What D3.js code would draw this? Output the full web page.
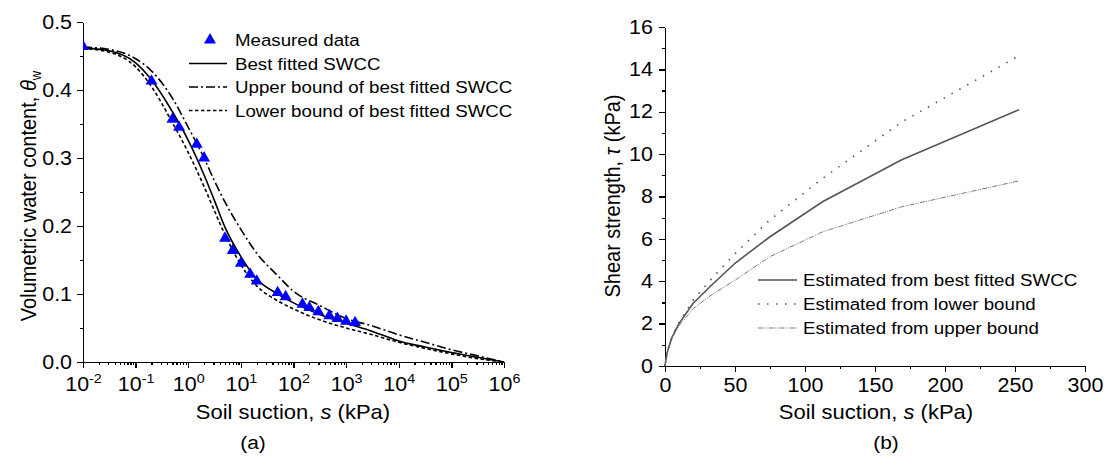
<!DOCTYPE html>
<html lang="en">
<head>
<meta charset="utf-8">
<title>SWCC and shear strength</title>
<script src="https://cdn.jsdelivr.net/npm/d3@7"></script>
<style>
  body { margin: 0; background: #fff; }
  text { font-family: Arial, "Liberation Sans", sans-serif; fill: #000; }
  .axis path, .axis line { stroke: #000; stroke-width: 1.3px; shape-rendering: crispEdges; }
</style>
</head>
<body>
<div id="chart"></div>
<script>
// ---- (a) measured points
const measSuction = [0.01, 0.2, 0.5, 0.67, 1.45, 2, 5, 7, 10, 15, 20, 50, 71, 148, 200, 297, 480, 684, 1000, 1480];
const measTheta = [0.464, 0.413, 0.357, 0.345, 0.320, 0.300, 0.182, 0.164, 0.145, 0.129, 0.119, 0.102, 0.096, 0.085, 0.080, 0.074, 0.068, 0.064, 0.060, 0.058];

// ---- (a) fitted SWCC curves
const curveSuction = [0.01, 0.03, 0.1, 0.2, 0.5, 1, 2, 3.16, 5, 10, 20, 50, 100, 316, 1000, 3162, 1e4, 31623, 1e5, 316228, 1e6];
const bestTheta  = [0.462, 0.458, 0.440, 0.415, 0.368, 0.326, 0.275, 0.237, 0.198, 0.155, 0.122, 0.100, 0.087, 0.070, 0.057, 0.045, 0.031, 0.022, 0.014, 0.007, 0.0];
const upperTheta = [0.463, 0.460, 0.446, 0.428, 0.388, 0.345, 0.300, 0.266, 0.235, 0.195, 0.160, 0.127, 0.104, 0.083, 0.064, 0.053, 0.040, 0.029, 0.018, 0.009, 0.0];
const lowerTheta = [0.461, 0.456, 0.434, 0.405, 0.352, 0.308, 0.258, 0.222, 0.187, 0.143, 0.112, 0.090, 0.078, 0.062, 0.050, 0.040, 0.029, 0.020, 0.012, 0.005, 0.0];

// ---- (b) shear strength
const tauSuction = [0, 1, 2, 5, 10, 20, 33, 50, 75, 112.5, 168.75, 253];
const tauBest  = [0, 0.45, 0.75, 1.35, 2.0, 2.95, 3.8, 4.85, 6.1, 7.75, 9.72, 12.1];
const tauLower = [0, 0.45, 0.75, 1.4, 2.05, 3.1, 4.1, 5.3, 6.9, 8.85, 11.5, 14.65];
const tauUpper = [0, 0.45, 0.75, 1.35, 1.9, 2.7, 3.35, 4.05, 5.16, 6.33, 7.51, 8.74];

// ---- ticks
const thetaTicks = [0, 0.1, 0.2, 0.3, 0.4, 0.5];
const decadeExps = [-2, -1, 0, 1, 2, 3, 4, 5, 6];
const tauTicks = [0, 2, 4, 6, 8, 10, 12, 14, 16];
const suctionTicksB = [0, 50, 100, 150, 200, 250, 300];

const width = 1107, height = 466;
const SX = 1.1; // the original text is a bit wider than plain Arial

const svg = d3.select('#chart').append('svg')
  .attr('width', width)
  .attr('height', height)
  .style('background', '#fff');

// helper for stretched text
function label(x, y, anchor, size, rotate) {
  return svg.append('text')
    .attr('transform', `translate(${x},${y}) scale(${SX},1)` + (rotate ? ' rotate(-90)' : ''))
    .attr('text-anchor', anchor)
    .style('font-size', size + 'px');
}

function styleTicks(g, size) {
  g.selectAll('.tick text')
    .style('font-size', size + 'px')
    .style('font-family', 'Arial, "Liberation Sans", sans-serif')
    .attr('transform', `scale(${SX},1)`);
}

// ================= (a) =================
const xA = d3.scaleLog().domain([1e-2, 1e6]).range([83, 504]);
const yA = d3.scaleLinear().domain([0, 0.5]).range([362, 22]);

const minorLog = [];
for (let k = -2; k < 6; k++) {
  for (let m = 2; m <= 9; m++) minorLog.push(m * Math.pow(10, k));
}

// minor ticks
svg.append('g').attr('class', 'axis')
  .attr('transform', `translate(0,${yA(0)})`)
  .call(d3.axisBottom(xA).tickValues(minorLog).tickSize(3).tickFormat(''))
  .call(g => g.select('.domain').remove());
svg.append('g').attr('class', 'axis')
  .attr('transform', `translate(${xA(1e-2)},0)`)
  .call(d3.axisLeft(yA).tickValues([0.05, 0.15, 0.25, 0.35, 0.45]).tickSize(3).tickFormat(''))
  .call(g => g.select('.domain').remove());

const gxA = svg.append('g').attr('class', 'axis')
  .attr('transform', `translate(0,${yA(0)})`)
  .call(d3.axisBottom(xA).tickValues(decadeExps.map(e => Math.pow(10, e))).tickSize(6).tickSizeOuter(0).tickPadding(9));
styleTicks(gxA, 19.5);
gxA.selectAll('.tick text').text(null).each(function(d) {
  const t = d3.select(this);
  t.append('tspan').text('10');
  t.append('tspan').attr('dy', '-0.6em').style('font-size', '13px').text(Math.round(Math.log10(d)));
});

const gyA = svg.append('g').attr('class', 'axis')
  .attr('transform', `translate(${xA(1e-2)},0)`)
  .call(d3.axisLeft(yA).tickValues(thetaTicks).tickSize(6).tickSizeOuter(0).tickPadding(4).tickFormat(d3.format('.1f')));
styleTicks(gyA, 19.5);

svg.append('clipPath').attr('id', 'clipA')
  .append('rect').attr('x', xA(1e-2)).attr('y', yA(0.5)).attr('width', xA(1e6) - xA(1e-2)).attr('height', yA(0) - yA(0.5));

const lineA = theta => d3.line()
  .x((d, i) => xA(curveSuction[i]))
  .y((d, i) => yA(theta[i]))
  .curve(d3.curveMonotoneX)(theta);

const curvesA = [
  { data: bestTheta, dash: null },
  { data: upperTheta, dash: '9,3,2,3' },
  { data: lowerTheta, dash: '3.5,2.5' }
];
svg.append('g').attr('clip-path', 'url(#clipA)')
  .selectAll('path')
  .data(curvesA)
  .enter()
  .append('path')
  .attr('d', d => lineA(d.data))
  .attr('fill', 'none')
  .attr('stroke', '#000')
  .attr('stroke-width', 1.6)
  .attr('stroke-dasharray', d => d.dash);

const tri = d3.symbol().type(d3.symbolTriangle).size(62);
svg.append('g').attr('clip-path', 'url(#clipA)')
  .selectAll('path')
  .data(measSuction)
  .enter()
  .append('path')
  .attr('d', tri)
  .attr('transform', (d, i) => `translate(${xA(d)},${yA(measTheta[i])})`)
  .attr('fill', '#0000ff');

// legend (a)
const legA = [
  { name: 'Measured data', dash: 'tri' },
  { name: 'Best fitted SWCC', dash: null },
  { name: 'Upper bound of best fitted SWCC', dash: '9,3,2,3' },
  { name: 'Lower bound of best fitted SWCC', dash: '3.5,2.5' }
];
legA.forEach((d, i) => {
  const yy = 40 + i * 23.5;
  if (d.dash === 'tri') {
    svg.append('path').attr('d', tri).attr('transform', `translate(210,${yy})`).attr('fill', '#0000ff');
  } else {
    svg.append('line').attr('x1', 189).attr('x2', 227).attr('y1', yy).attr('y2', yy)
      .attr('stroke', '#000').attr('stroke-width', 1.6).attr('stroke-dasharray', d.dash);
  }
  label(235, yy + 6, 'start', 17).text(d.name);
});

// titles (a)
const tA = label(36, 196, 'middle', 20, true);
tA.append('tspan').text('Volumetric water content, ');
tA.append('tspan').style('font-style', 'italic').text('θ');
tA.append('tspan').attr('dy', '0.35em').style('font-size', '13px').text('w');

const txA = label(293, 419, 'middle', 20);
txA.append('tspan').text('Soil suction, ');
txA.append('tspan').style('font-style', 'italic').text('s');
txA.append('tspan').text(' (kPa)');

label(253, 449, 'middle', 19).text('(a)');

// ================= (b) =================
const xB = d3.scaleLinear().domain([0, 300]).range([665, 1085]);
const yB = d3.scaleLinear().domain([0, 16]).range([366, 27]);

svg.append('g').attr('class', 'axis')
  .attr('transform', `translate(0,${yB(0)})`)
  .call(d3.axisBottom(xB).tickValues(d3.range(25, 300, 50)).tickSize(3).tickFormat(''))
  .call(g => g.select('.domain').remove());
svg.append('g').attr('class', 'axis')
  .attr('transform', `translate(${xB(0)},0)`)
  .call(d3.axisLeft(yB).tickValues(d3.range(1, 16, 2)).tickSize(3).tickFormat(''))
  .call(g => g.select('.domain').remove());

const gxB = svg.append('g').attr('class', 'axis')
  .attr('transform', `translate(0,${yB(0)})`)
  .call(d3.axisBottom(xB).tickValues(suctionTicksB).tickSize(6).tickSizeOuter(0).tickPadding(6));
styleTicks(gxB, 19.5);

const gyB = svg.append('g').attr('class', 'axis')
  .attr('transform', `translate(${xB(0)},0)`)
  .call(d3.axisLeft(yB).tickValues(tauTicks).tickSize(6).tickSizeOuter(0).tickPadding(5));
styleTicks(gyB, 19.5);

const lineB = vals => d3.line()
  .x((d, i) => xB(tauSuction[i]))
  .y((d, i) => yB(vals[i]))
  .curve(d3.curveLinear)(vals);

const curvesB = [
  { name: 'Estimated from best fitted SWCC', data: tauBest, dash: null, w: 1.6, c: '#555' },
  { name: 'Estimated from lower bound', data: tauLower, dash: '1.5,7.5', w: 1.6, c: '#555' },
  { name: 'Estimated from upper bound', data: tauUpper, dash: '5,1.2,1,1.2,1,1.2', w: 0.9, c: '#666' }
];
svg.append('g')
  .selectAll('path')
  .data(curvesB)
  .enter()
  .append('path')
  .attr('d', d => lineB(d.data))
  .attr('fill', 'none')
  .attr('stroke', d => d.c)
  .attr('stroke-width', d => d.w)
  .attr('stroke-dasharray', d => d.dash);

curvesB.forEach((d, i) => {
  const yy = 280 + i * 24;
  svg.append('line').attr('x1', 758).attr('x2', 797).attr('y1', yy).attr('y2', yy)
    .attr('stroke', d.c).attr('stroke-width', d.w).attr('stroke-dasharray', d.dash);
  label(803, yy + 6, 'start', 17).text(d.name);
});

const tB = label(620, 196, 'middle', 20, true);
tB.append('tspan').text('Shear strength, ');
tB.append('tspan').style('font-style', 'italic').text('τ');
tB.append('tspan').text(' (kPa)');

const txB = label(876, 419, 'middle', 20);
txB.append('tspan').text('Soil suction, ');
txB.append('tspan').style('font-style', 'italic').text('s');
txB.append('tspan').text(' (kPa)');

label(886, 449, 'middle', 19).text('(b)');
</script>
</body>
</html>
